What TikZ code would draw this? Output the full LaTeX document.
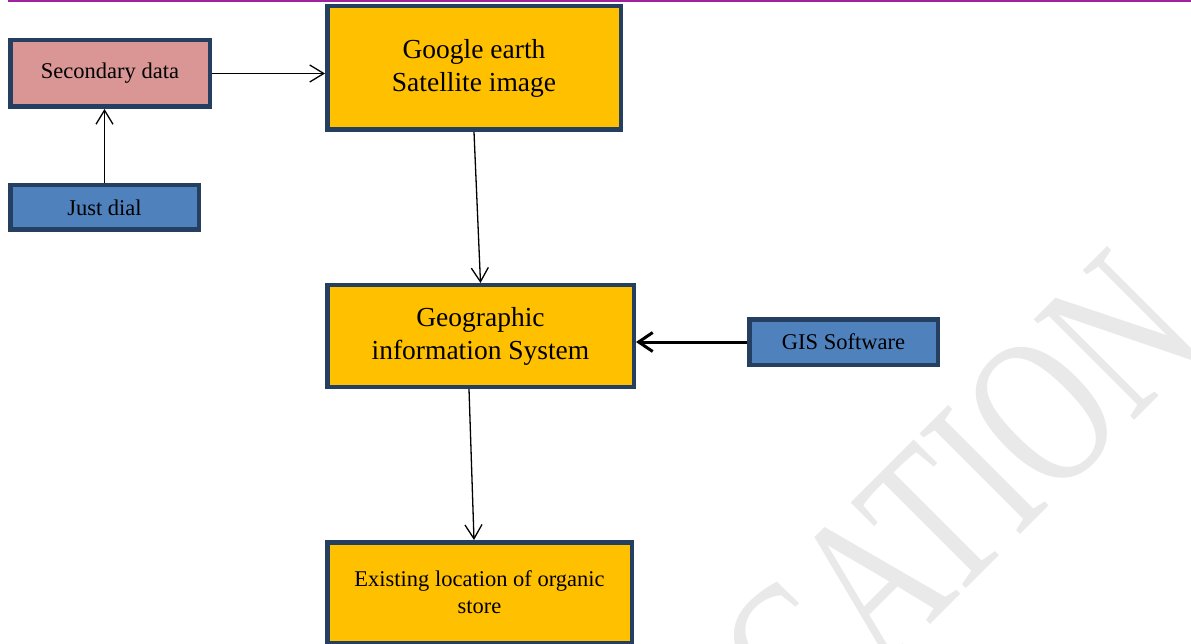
\documentclass[tikz,border=0pt]{standalone}
\usepackage{fontspec}
\setmainfont{Liberation Serif}
\usepackage{xcolor}
\usepackage{tikz}
\usetikzlibrary{arrows.meta}
\usetikzlibrary{calc}
\usetikzlibrary{positioning}

\definecolor{boxedge}{HTML}{243F60}
\definecolor{boxgold}{HTML}{FFC000}
\definecolor{boxpink}{HTML}{D99694}
\definecolor{boxblue}{HTML}{4F81BD}
\definecolor{rulepurple}{HTML}{A0229F}

\tikzset{
  box/.style={draw=boxedge, line width=4.5pt, outer sep=2.25pt, align=center, inner sep=0pt},
  bigbox/.style={box, fill=boxgold, font=\fontsize{27.5}{33}\selectfont},
  smallbox/.style={box, font=\fontsize{22.5}{27}\selectfont},
  flow/.style={line width=1.3pt, -{Straight Barb[length=14pt,width=17pt]}},
  heavyflow/.style={line width=3pt, -{Straight Barb[length=14pt,width=19pt]}},
}

\begin{document}
\begin{tikzpicture}[x=1pt, y=-1pt]
      \useasboundingbox (0, 0) rectangle (1191, 644);
      \clip (0, 0) rectangle (1191, 644);

      \node[text=gray!17, rotate=45, yscale=1.4, font=\fontsize{155}{155}\selectfont] (mark) at (960, 495) {CATION};

      \draw[rulepurple, line width=2.5pt] (8, 1) -- (1191, 1);

      \node[smallbox, fill=boxpink, minimum width=199.5pt, minimum height=66.5pt] (secondary) at (110, 73.5) {Secondary data};
      \node[smallbox, fill=boxblue, minimum width=188.5pt, minimum height=44.5pt] (justdial) at (104.5, 207.5) {Just dial};

      \node[bigbox, minimum width=293.5pt, minimum height=123.5pt] (google) at (474, 68) {Google earth\\Satellite image};
      \node[bigbox, minimum width=306.5pt, minimum height=101.5pt] (gis) at (480.5, 336) {Geographic\\information System};
      \node[smallbox, fill=boxblue, minimum width=188.5pt, minimum height=45.5pt] (software) at (843.5, 342) {GIS Software};

      \node[smallbox, fill=boxgold, minimum width=304.5pt, minimum height=100.5pt] (store) at (479.5, 592.5) {Existing location of organic\\store};

      \draw[flow] (secondary.east) -- (secondary.east -| google.west);
      \draw[flow] (justdial.north) -- (justdial.north |- secondary.south);
      \draw[flow] (google.south) -- (gis.north);
      \draw[flow] ([xshift=-11.5pt]gis.south) -- ([xshift=-5.5pt]store.north);
      \draw[heavyflow] (software.west) -- (software.west -| gis.east);

    \end{tikzpicture}
\end{document}
